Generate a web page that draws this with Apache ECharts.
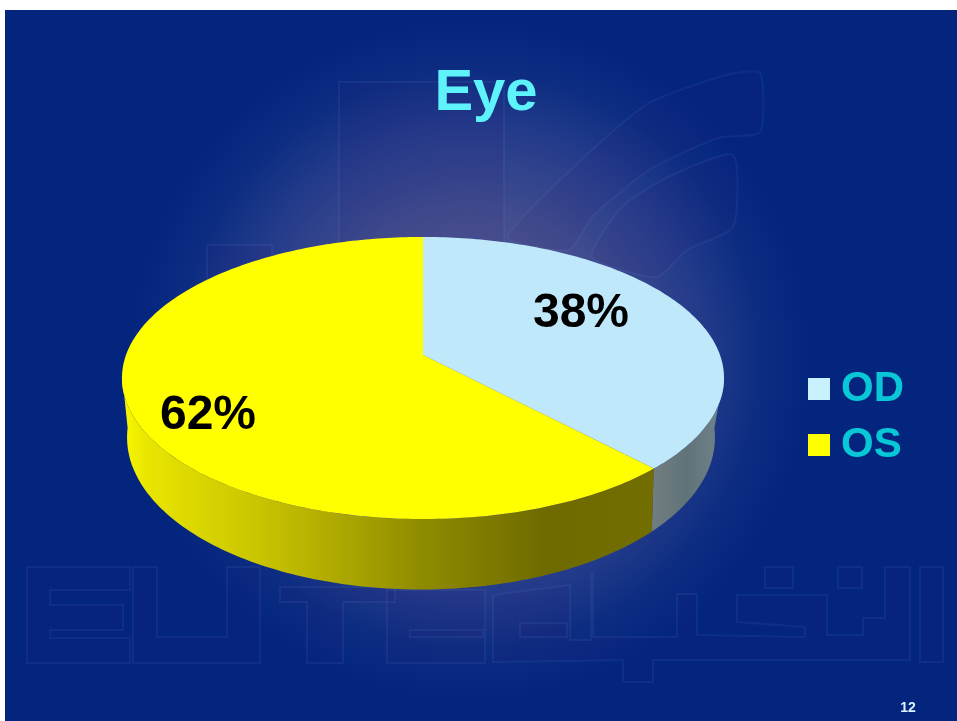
<!DOCTYPE html>
<html>
<head>
<meta charset="utf-8">
<style>html,body{margin:0;padding:0;background:#fff}#c{width:957px;height:721px}</style>
<script src="https://cdn.jsdelivr.net/npm/echarts@6/dist/echarts.min.js"></script>
</head>
<body>
<div id="c"></div>
<script>
const categories = ['OD', 'OS'];
const shares = [38, 62];
const percentLabels = ['38%', '62%'];
const chartTitle = 'Eye';
const pageNumber = '12';

const FONT = '"Liberation Sans", Arial, sans-serif';
const topDisk = {cx: 423, cy: 355, a: 297, b: 137.3, k: 0.163};
const lowDisk = {cx: 421, cy: 407, a: 288, b: 146, k: 0.2};
const labelAt = [[581, 314], [208, 416]];
const faceColor = ['#c0e8fb', '#ffff00'];
const legendColor = ['#c9f0ff', '#ffff00'];
const wallFill = [
  new echarts.graphic.LinearGradient(653, 0, 722, 0, [
    {offset: 0, color: '#727d80'}, {offset: 0.5, color: '#5f7379'}, {offset: 1, color: '#71848b'}
  ], true),
  new echarts.graphic.LinearGradient(122, 0, 653, 0, [
    {offset: 0, color: '#f8f800'}, {offset: 0.053, color: '#e8e400'}, {offset: 0.26, color: '#c8c400'},
    {offset: 0.56, color: '#908c00'}, {offset: 0.8, color: '#6e6a00'}, {offset: 1, color: '#726e00'}
  ], true)
];
const SIL_R = 98, SIL_L = 262; // silhouette angles of the disk

function project(d, deg) {
  const t = deg * Math.PI / 180, u = Math.sin(t), v = -Math.cos(t), w = 1 - d.k * v;
  return [d.cx + d.a * u / w, d.cy + d.b * v / w];
}
function arc(d, from, to) {
  const pts = [];
  const n = Math.max(2, Math.ceil(Math.abs(to - from)));
  for (let i = 0; i <= n; i++) pts.push(project(d, from + (to - from) * i / n));
  return pts;
}
const total = shares.reduce((s, x) => s + x, 0);

function renderSlice(params, api) {
  const idx = params.seriesIndex;
  const start = api.value(0) / total * 360;
  const end = start + api.value(1) / total * 360;
  const wFrom = Math.max(start, SIL_R), wTo = Math.min(end, SIL_L);
  const wall = arc(topDisk, wFrom, wTo).concat(arc(lowDisk, wTo, wFrom));
  const face = [[topDisk.cx, topDisk.cy]].concat(arc(topDisk, start, end));
  return {
    type: 'group',
    children: [
      {type: 'polygon', z2: 1, shape: {points: wall}, style: {fill: wallFill[idx]}},
      {type: 'polygon', z2: 2, shape: {points: face}, style: {fill: faceColor[idx]}},
      {type: 'text', z2: 5, x: labelAt[idx][0], y: labelAt[idx][1],
        style: {text: percentLabels[idx], fill: '#000', font: 'bold 48px ' + FONT, align: 'center', verticalAlign: 'middle'}}
    ]
  };
}

let acc = 0;
const series = categories.map((name, i) => {
  const s = {
    type: 'custom', name, coordinateSystem: 'none', renderItem: renderSlice, silent: true, animation: false,
    itemStyle: {color: legendColor[i]}, z: i === 1 ? 3 : 2,
    data: [[acc, shares[i]]]
  };
  acc += shares[i];
  return s;
});

const wmStroke = 'rgba(130,160,230,0.09)', wmFill = 'rgba(55,25,115,0.08)';
const wmShapes = [
  [[27,567],[130,567],[130,590],[50,590],[50,605],[123,605],[123,630],[50,630],[50,638],[130,638],[130,663],[27,663]],
  [[133,567],[157,567],[157,637],[227,637],[227,567],[260,567],[260,663],[133,663]],
  [[280,587],[395,587],[395,602],[343,602],[343,663],[307,663],[307,602],[280,602]],
  [[387,590],[485,590],[485,663],[387,663]],
  [[410,630],[483,630],[483,637],[410,637]],
  [[493,595],[570,585],[570,640],[591,640],[591,573],[593,573],[593,637],[677,637],[677,594],[697,594],[697,635],[805,637],[805,627],[737,622],[737,595],[827,595],[827,635],[863,635],[863,618],[885,618],[885,567],[910,567],[910,660],[653,660],[653,682],[623,682],[623,660],[493,662]],
  [[520,623],[567,623],[567,637],[520,637]],
  [[765,567],[793,567],[793,588],[765,588]],
  [[838,567],[862,567],[862,588],[838,588]],
  [[920,567],[943,567],[943,662],[920,662]],
  [[339,82],[504,82],[504,300],[339,300]],
  [[207,245],[272,245],[272,300],[207,300]]
];
const wmCurves = [
  [[508,237],[592,150],[649,103],[726,75],[760,73],[760,132],[718,138],[649,170],[592,217],[569,250]],
  [[592,257],[622,207],[668,177],[733,155],[733,227],[687,250],[657,277]]
];
const graphicEls = [
  {type: 'rect', z: -10, silent: true, shape: {x: 5, y: 10, width: 952, height: 711},
    style: {fill: new echarts.graphic.RadialGradient(470, 360, 340, [
      {offset: 0, color: '#565c98'}, {offset: 0.4, color: '#46508f'}, {offset: 0.7, color: '#223a8a'},
      {offset: 0.85, color: '#0d2d82'}, {offset: 1, color: '#03257e'}
    ], true)}}
].concat(wmShapes.map(p => ({
  type: 'polygon', z: -9, silent: true, shape: {points: p},
  style: {fill: wmFill, stroke: wmStroke, lineWidth: 2}
}))).concat(wmCurves.map(p => ({
  type: 'polygon', z: -9, silent: true, shape: {points: p, smooth: 0.2},
  style: {fill: wmFill, stroke: wmStroke, lineWidth: 2}
}))).concat([
  {type: 'text', z: 10, silent: true, x: 908, y: 708,
    style: {text: pageNumber, fill: '#d8f4ff', font: 'bold 14px ' + FONT, align: 'center', verticalAlign: 'middle'}}
]);

const chart = echarts.init(document.getElementById('c'), null, {renderer: 'canvas'});
chart.setOption({
  animation: false,
  backgroundColor: '#ffffff',
  title: {
    text: chartTitle, left: 481, top: 60, textAlign: 'center',
    textStyle: {color: '#5ef3fb', fontFamily: FONT, fontWeight: 'bold', fontSize: 58}
  },
  legend: {
    orient: 'vertical', left: 808, top: 368, itemWidth: 22, itemHeight: 22, itemGap: 14,
    icon: 'rect', selectedMode: false, padding: 0,
    data: categories,
    textStyle: {color: '#08c8d8', fontFamily: FONT, fontWeight: 'bold', fontSize: 42, padding: [3, 0, 0, 6]}
  },
  graphic: graphicEls,
  series
});
</script>
</body>
</html>
